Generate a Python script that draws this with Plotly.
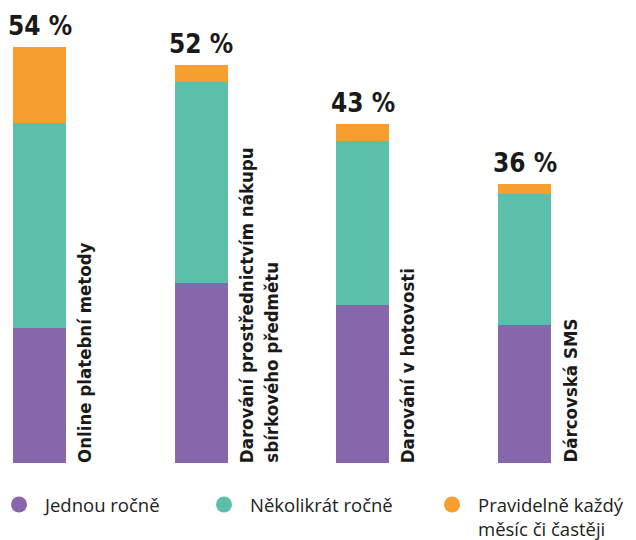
import plotly.graph_objects as go

categories = [["Online platební metody"],
              ["Darování prostřednictvím nákupu", "sbírkového předmětu"],
              ["Darování v hotovosti"],
              ["Dárcovská SMS"]]
total_labels = ["54 %", "52 %", "43 %", "36 %"]
series_names = ["Jednou ročně", "Několikrát ročně", "Pravidelně každý<br>měsíc či častěji"]
jednou = [17.5, 23.4, 20.5, 17.9]
nekolikrat = [26.6, 26.1, 21.3, 17.1]
pravidelne = [9.9, 2.2, 2.2, 1.2]
colors = ["#8767AB", "#5BBFAA", "#F79F2E"]

W, H = 636, 540
PLOT_BOTTOM = 463
PX_PER_UNIT_X = 161.67
BAR_W = 53 / PX_PER_UNIT_X
x_pos = list(range(len(categories)))

fig = go.Figure()
for vals, col in zip([jednou, nekolikrat, pravidelne], colors):
    fig.add_trace(go.Bar(x=x_pos, y=vals, marker=dict(color=col, line=dict(width=0)),
                         width=BAR_W, showlegend=False, hoverinfo="skip"))

legend_names = ["legend", "legend2", "legend3"]
for name, col, lg in zip(series_names, colors, legend_names):
    fig.add_trace(go.Scatter(x=[None], y=[None], mode="markers", name=name,
                             marker=dict(color=col, size=20, symbol="circle"),
                             legend=lg, showlegend=True))

FONT_C = "DejaVu Sans Condensed, sans-serif"
label_font = dict(family=FONT_C, size=18.5, color="#1a1a1a")
totals = [a + b + c for a, b, c in zip(jednou, nekolikrat, pravidelne)]
for i, (lines, tl) in enumerate(zip(categories, total_labels)):
    fig.add_annotation(x=i, y=totals[i], xref="x", yref="y", text="<b>%s</b>" % tl,
                       showarrow=False, xanchor="center", yanchor="bottom", yshift=4,
                       font=dict(family=FONT_C, size=26, color="#1a1a1a"))
    for j, line in enumerate(lines):
        fig.add_annotation(x=i + BAR_W / 2, y=0, xref="x", yref="y", text="<b>%s</b>" % line,
                           showarrow=False, textangle=-90, xanchor="left", yanchor="bottom",
                           xshift=6 + 25 * j, yshift=-2, font=label_font)

x0 = -39.5 / PX_PER_UNIT_X
x1 = x0 + W / PX_PER_UNIT_X
leg_common = dict(orientation="v", bgcolor="rgba(0,0,0,0)", borderwidth=0,
                  font=dict(family="Open Sans, sans-serif", size=18.5, color="#222222"),
                  yanchor="top", xanchor="left", valign="top", itemclick=False,
                  itemwidth=42, xref="paper", yref="container")
ly = 1 - 486 / H
fig.update_layout(
    width=W, height=H,
    margin=dict(l=0, r=0, t=0, b=H - PLOT_BOTTOM, autoexpand=False),
    paper_bgcolor="white", plot_bgcolor="white",
    barmode="stack", bargap=0,
    xaxis=dict(range=[x0, x1], visible=False, fixedrange=True),
    yaxis=dict(range=[0, PLOT_BOTTOM / 7.7], visible=False, fixedrange=True),
    legend=dict(x=-7 / W, y=ly, **leg_common),
    legend2=dict(x=198 / W, y=ly, **leg_common),
    legend3=dict(x=426 / W, y=ly, **leg_common),
)

fig.write_html("out.html")
